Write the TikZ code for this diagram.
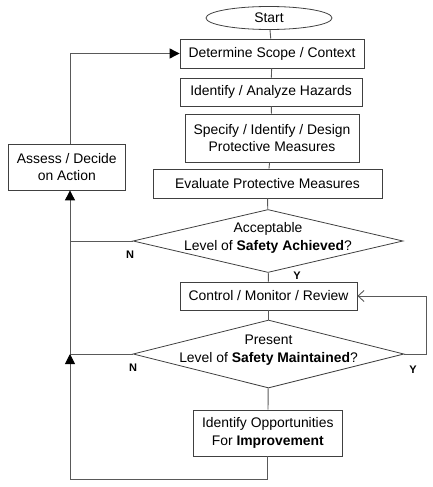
\documentclass[tikz,border=0pt]{standalone}
\usepackage{fontspec}
\setmainfont{Liberation Sans}
\usetikzlibrary{shapes.geometric,arrows.meta}
\begin{document}
\begin{tikzpicture}[x=1pt,y=-1pt,font=\fontsize{13.9}{17.5}\selectfont,
  stepbox/.style={draw=black!75,line width=0.8pt,inner sep=2pt,align=center},
  decision/.style={draw=black!75,line width=0.8pt,diamond,inner sep=0pt},
  link/.style={draw=black!65,line width=0.9pt},
  tip/.style={-{Triangle[length=10pt,width=10pt,black]}},
  yn/.style={font=\fontsize{11}{13}\selectfont\bfseries}]
\useasboundingbox (0,0) rectangle (432,487);
\node[draw=black!75,line width=0.8pt,ellipse,inner sep=0pt,minimum width=126,minimum height=23] (start) at (269,18) {Start};
\node[stepbox,minimum width=184,minimum height=29] (scope) at (272,53.5) {Determine Scope / Context};
\node[stepbox,minimum width=182,minimum height=28] (hazards) at (271,92) {Identify / Analyze Hazards};
\node[stepbox,minimum width=174,minimum height=48] (specify) at (272,138) {Specify / Identify / Design\\Protective Measures};
\node[stepbox,minimum width=229,minimum height=29] (evaluate) at (267.5,183.5) {Evaluate Protective Measures};
\node[decision,minimum width=270,minimum height=63,
  label={[align=center,yshift=3pt]center:Acceptable\\Level of \textbf{Safety Achieved}?}] (achieved) at (268,241) {};
\node[stepbox,minimum width=177,minimum height=28] (control) at (268.5,296) {Control / Monitor / Review};
\node[decision,minimum width=271,minimum height=68,
  label={[align=center,yshift=4pt]center:Present\\Level of \textbf{Safety Maintained}?}] (maintained) at (268.5,354) {};
\node[stepbox,minimum width=149,minimum height=46] (improve) at (267.8,433) {Identify Opportunities\\For \textbf{Improvement}};
\node[stepbox,minimum width=117,minimum height=46] (assess) at (66.8,167) {Assess / Decide\\on Action};
\node[yn] (nA) at (130,255) {N};
\node[yn] (yA) at (297,276) {Y};
\node[yn] (nM) at (133,368) {N};
\node[yn] (yM) at (413,370) {Y};
% junctions of the return lines
\coordinate (jA) at (70,241);
\coordinate (jM) at (70,354);
\coordinate (jB) at (70,479);
\coordinate (jR) at (426,354);
% main flow
\draw[link] (start) -- (scope);
\draw[link] (scope) -- (hazards);
\draw[link] (hazards) -- (specify);
\draw[link] (specify) -- (evaluate);
\draw[link] (evaluate) -- (achieved);
\draw[link] (achieved) -- (control);
\draw[link] (control) -- (maintained);
\draw[link] (maintained) -- (improve);
% loops
\draw[link] (achieved.west) -- (jA);
\draw[link,tip] (maintained.west) -- (jM) -- (jM |- assess.south);
\draw[link,tip] (improve.south) -- (improve.south |- jB) -- (jB) -- (jM);
\draw[link,tip] (jM |- assess.north) -- (jM |- scope.west) -- (scope.west);
\draw[link,-{Straight Barb[length=6pt,width=11pt]}] (maintained.east) -- (jR) -- (jR |- control.east) -- (control.east);
\end{tikzpicture}
\end{document}
